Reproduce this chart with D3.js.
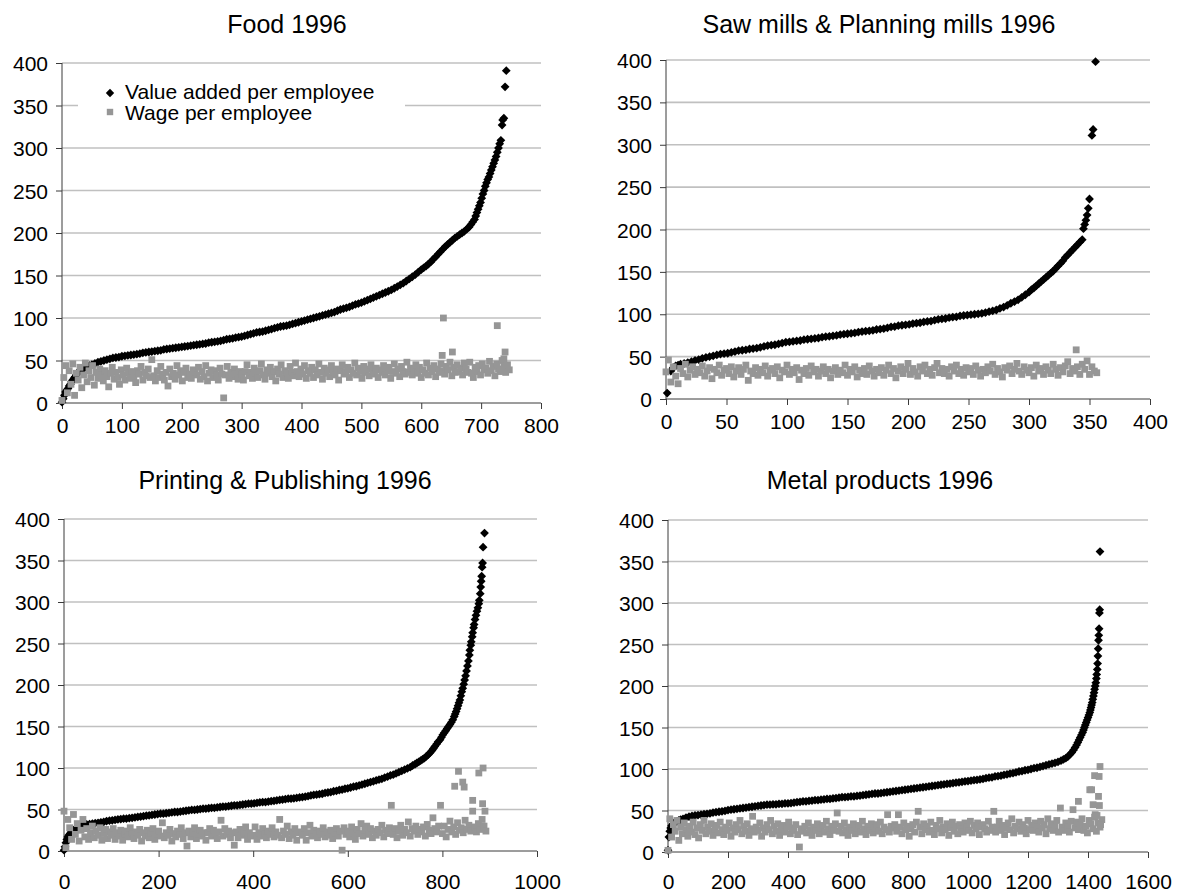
<!DOCTYPE html>
<html>
<head>
<meta charset="utf-8">
<script src="https://cdn.jsdelivr.net/npm/d3@7"></script>
<style>
  body { margin: 0; background: #fff; }
  svg text { font-family: "Liberation Sans", Arial, Helvetica, sans-serif; fill: #000; }
</style>
</head>
<body>
<svg id="chart" width="1181" height="894"></svg>
<script>
// ---- Value added per employee: [firm rank, value] ----
const foodValueAdded = [[0,1],[2,5],[4,9],[6,13],[8,15],[10,17],[12,20],[14,22],[16,25],[18,27],[20,29],[22,31],[24,33],[26,35],[28,37],[30,38],[33,39],[36,40.5],[40,42],[43,43],[46,44],[50,45],[55,46.5],[60,48],[65,49],[70,50],[75,51],[80,52],[85,53],[90,53.5],[95,54],[100,55],[105,55.5],[110,56],[115,56.5],[120,57],[125,57.5],[130,58],[135,59],[140,59.5],[145,60],[150,60.5],[155,61],[160,61.5],[165,62],[170,63],[175,63.5],[180,64],[185,64.5],[190,65],[195,65.5],[200,66],[205,66.5],[210,67],[215,67.5],[220,68],[225,68.5],[230,69],[235,69.5],[240,70],[245,71],[250,71.5],[255,72],[260,72.5],[265,73],[270,74],[275,75],[280,75.5],[285,76],[290,77],[295,77.5],[300,78],[305,79],[310,80],[315,81],[320,82],[325,83],[330,83.5],[335,84],[340,85],[345,86],[350,87],[355,88],[360,89],[365,90],[370,90.5],[375,91],[380,92],[385,93],[390,94],[395,95],[400,96],[405,97],[410,98],[415,99],[420,100],[425,101],[430,102],[435,103],[440,104],[445,105],[450,106],[455,107],[460,108.5],[465,110],[470,111],[475,112],[480,113],[485,114.5],[490,116],[495,117],[500,118],[505,119.5],[510,121],[515,122.5],[520,124],[525,125.5],[530,127],[535,128.5],[540,130],[545,131.5],[550,133],[555,135],[560,137],[565,139],[570,141],[575,143.5],[580,146],[585,148.5],[590,151],[595,154],[600,157],[604,159],[608,161],[612,163.5],[616,166],[620,169],[624,172],[628,175],[632,178],[636,181],[640,184],[644,186.5],[648,189],[652,191.5],[656,194],[660,196],[664,198],[668,200],[672,202],[676,204.5],[680,207],[683,210],[686,213],[689,216],[691,220],[693,224],[695,228],[697,232],[699,236],[701,241],[703,246],[705,250],[707,255],[709,259],[711,263],[713,266],[715,270],[717,274],[719,278],[721,282],[723,286],[725,290],[727,295],[729,300],[731,305],[733,309],[735,327],[736,333],[738,335],[740,372],[742,391]];

const sawValueAdded = [[1,7],[4,33],[6,37],[8,39],[10,40],[12,41],[15,42],[18,43],[21,44],[24,45.5],[27,46.5],[30,48],[33,49],[36,50],[39,51],[42,52],[45,53],[48,53.5],[51,54],[54,55],[57,56],[60,57],[63,57.5],[66,58],[69,59],[72,59.5],[75,60],[78,61],[81,62],[84,63],[87,63.5],[90,64],[93,65],[96,66],[99,67],[102,67.5],[105,68],[108,68.5],[111,69],[114,70],[117,70.5],[120,71],[123,71.5],[126,72],[129,73],[132,73.5],[135,74],[138,74.5],[141,75],[144,76],[147,76.5],[150,77],[153,77.5],[156,78],[159,79],[162,79.5],[165,80],[168,80.5],[171,81],[174,82],[177,82.5],[180,83],[183,84],[186,85],[189,85.5],[192,86.5],[195,87],[198,87.5],[201,88],[204,89],[207,89.5],[210,90],[213,91],[216,91.5],[219,92],[222,93],[225,94],[228,94.5],[231,95],[234,96],[237,96.5],[240,97],[243,98],[246,98.5],[249,99],[252,99.5],[255,100],[258,100.5],[261,101],[264,102],[267,103],[270,104],[273,105],[276,107],[279,108.5],[282,110.5],[285,113],[288,115],[291,117],[294,120],[297,123],[300,126],[302,129],[304,131],[306,133.5],[308,136],[310,138.5],[312,141],[314,143.5],[316,146],[318,148.5],[320,151],[322,154],[324,157],[326,160],[328,163],[330,167],[332,170],[334,173],[336,176],[338,179],[340,182],[342,185],[344,188],[345,201],[346,206],[347,211],[348,217],[349,225],[350,236],[352,311],[353,318],[355,398]];

const printValueAdded = [[0,1],[2,5],[4,10],[6,14],[8,17],[10,19],[13,21],[16,23.5],[20,25],[24,26.5],[28,28],[32,29],[36,30.5],[42,31],[48,32],[54,32.5],[60,33],[66,33.5],[72,34],[78,34.5],[84,35],[90,36],[96,36.5],[102,37],[108,37.5],[114,38],[120,38.5],[126,39],[132,39],[138,39.5],[144,40],[150,40.5],[156,41],[162,41.5],[168,42],[174,42.5],[180,43],[186,43.5],[192,44],[198,44.5],[204,45],[210,45],[216,45.5],[222,46],[228,46.5],[234,47],[240,47],[246,47.5],[252,48],[258,48.5],[264,49],[270,49.5],[276,49.5],[282,50],[288,50.5],[294,51],[300,51],[306,51.5],[312,52],[318,52],[324,52.5],[330,53],[336,53.5],[342,53.5],[348,54],[354,54.5],[360,55],[366,55],[372,55.5],[378,56],[384,56.5],[390,57],[396,57],[402,57.5],[408,58],[414,58.5],[420,59],[426,59],[432,59.5],[438,60],[444,60.5],[450,61],[456,61.5],[462,62],[468,62.5],[474,63],[480,63],[486,63.5],[492,64],[498,64.5],[504,65],[510,65.5],[516,66],[522,67],[528,67.5],[534,68],[540,68.5],[546,69],[552,70],[558,70.5],[564,71],[570,72],[576,72.5],[582,73.5],[588,74],[594,75],[600,75.5],[606,76.5],[612,77.5],[618,78],[624,79],[630,80],[636,81],[642,82],[648,83],[654,84],[660,85],[666,86],[672,87],[678,88.5],[684,89.5],[690,91],[696,92],[702,93.5],[708,95],[714,96.5],[720,98],[726,99.5],[732,101],[737,103],[742,104.5],[746,106],[750,107.5],[754,109],[758,110.5],[762,112],[766,114],[770,116],[774,118.5],[778,121],[781,123.5],[784,126],[788,129],[791,131.5],[795,134],[798,137],[801,140],[804,142.5],[807,145],[810,147.5],[813,150],[816,152.5],[819,155],[822,158],[825,162],[827,165],[829,168],[831,171.5],[833,175],[835,178.5],[837,182],[839,187],[841,192],[843,196],[845,201],[847,206],[849,211],[851,217],[853,223],[855,229],[857,236],[858,242],[860,248],[861,252],[863,258],[864,263],[866,269],[867,273],[869,279],[871,284],[873,289],[875,293],[877,298],[878,302],[880,310],[881,318],[882,325],[883,331],[884,342],[885,347],[886,366],[889,383]];

const metalValueAdded = [[0,2],[3,18],[6,25],[9,29],[12,31.5],[16,33.5],[20,35],[25,36],[30,37],[36,38],[42,39],[50,40],[60,41.5],[70,42.5],[80,43.5],[90,44],[100,44.5],[110,45],[120,45.5],[130,46],[140,46.5],[150,47.5],[160,48],[170,48.5],[180,49],[190,49.5],[200,50.5],[210,51],[220,51.5],[230,52],[240,52.5],[250,53],[260,53.5],[270,54],[280,54.5],[290,55],[300,55.5],[310,56],[320,56.5],[330,57],[340,57],[350,57.5],[360,57.5],[370,58],[380,58],[390,58.5],[400,58.5],[410,59],[420,59.5],[430,60],[440,60.5],[450,61],[460,61],[470,61.5],[480,62],[490,62.5],[500,62.5],[510,63],[520,63.5],[530,64],[540,64],[550,64.5],[560,65],[570,65.5],[580,66],[590,66],[600,66.5],[610,67],[620,67],[630,67.5],[640,68],[650,68.5],[660,69],[670,69.5],[680,70],[690,70.5],[700,70.5],[710,71],[720,71.5],[730,72],[740,72.5],[750,73],[760,73.5],[770,74],[780,74.5],[790,75],[800,75.5],[810,76],[820,76.5],[830,77],[840,77.5],[850,78],[860,78.5],[870,79],[880,79.5],[890,80],[900,80.5],[910,81],[920,81.5],[930,82],[940,82.5],[950,83],[960,83.5],[970,84],[980,84.5],[990,85],[1000,85.5],[1010,86],[1020,86.5],[1030,87],[1040,87.5],[1050,88],[1060,89],[1070,89.5],[1080,90],[1090,91],[1100,91.5],[1110,92],[1120,93],[1130,93.5],[1140,94.5],[1150,95],[1160,96],[1170,97],[1180,97.5],[1190,98.5],[1200,99],[1210,100],[1220,101],[1230,101.5],[1240,102.5],[1250,103.5],[1260,104.5],[1270,105.5],[1280,106.5],[1290,107.5],[1300,108.5],[1310,110],[1318,111.5],[1326,113],[1333,115],[1340,117.5],[1346,120],[1352,123],[1357,126],[1362,129],[1366,132],[1370,135],[1374,138],[1378,141],[1382,144],[1385,147],[1388,150],[1391,153],[1394,156],[1397,159],[1400,162],[1403,165],[1406,168],[1408,171],[1410,174],[1412,177],[1414,180],[1416,184],[1418,188],[1420,192],[1422,196],[1424,200],[1426,204],[1428,209],[1429,214],[1431,220],[1432,227],[1433,236],[1434,245],[1435,255],[1436,261],[1437,269],[1438,288],[1439,292],[1440,362]];

// ---- Wage per employee: values for every n-th firm (rank = index * step), plus stray firms ----
const foodWageStep = 3;
const foodWage = [3,30,44,12,38,22,46,9,35,27,42,18,33,47,25,38,30,44,21,36,29,40,33,26,38,
  31,19,35,42,28,36,30,22,39,33,27,41,35,29,37,31,24,38,34,43,27,36,32,40,30,
  51,32,26,38,30,43,34,27,36,20,40,31,35,28,44,33,38,26,36,41,30,34,29,39,36,
  33,42,28,37,31,44,26,35,39,30,38,33,27,41,34,6,33,43,29,36,31,40,34,28,37,
  34,27,37,45,32,36,29,41,35,30,38,46,33,28,39,35,42,31,37,26,40,34,45,30,38,
  35,29,43,36,32,47,37,31,40,34,44,29,38,35,42,30,39,33,46,36,28,41,35,39,31,
  44,36,33,40,27,38,45,34,37,42,30,39,35,47,33,41,37,29,43,36,40,32,45,38,34,
  41,30,39,36,44,33,38,42,29,37,46,35,40,31,43,37,34,48,36,41,33,39,45,35,42,
  30,39,35,47,33,41,37,44,31,40,36,46,38,34,43,39,48,32,42,36,45,37,41,33,47,
  40,36,48,35,30,42,37,44,33,46,39,41,35,49,38,43,32,46,40,37,50,44,36,45,39];
const foodWageStray = [[637,100],[652,60],[727,91],[740,60],[635,56],[738,52]];

const sawWageStep = 2;
const sawWage = [32,46,20,38,27,18,36,30,41,26,34,38,29,35,31,39,27,33,37,24,35,31,40,28,34,
  36,30,38,26,33,37,29,35,40,22,33,30,37,28,35,31,39,27,34,36,30,38,25,34,32,
  40,29,35,31,37,23,34,30,36,28,39,32,35,27,33,38,30,35,25,33,37,29,34,31,40,
  28,35,32,38,26,34,30,36,29,39,33,27,35,31,37,28,34,40,30,36,25,33,38,30,35,
  42,29,36,32,27,38,33,40,30,35,28,37,42,31,36,30,35,27,38,33,40,30,35,28,37,
  32,36,29,39,34,27,35,31,38,33,41,29,36,32,26,37,34,39,30,35,42,33,29,38,34,
  31,37,27,40,33,36,29,38,34,30,41,35,28,37,32,39,44,30,36,33,38,29,41,35,45,
  29,38,33,31];
const sawWageStray = [[339,58]];

const printWageStep = 4;
const printWage = [48,4,38,28,14,44,20,33,12,25,38,17,27,14,22,30,16,24,19,28,13,21,26,15,23,
  19,27,14,22,18,25,13,20,24,17,28,21,15,23,19,26,12,22,18,25,16,21,27,14,20,
  24,18,34,16,22,19,26,12,21,17,24,20,28,15,22,6,24,17,22,28,15,20,25,18,22,
  13,22,27,18,25,20,15,23,37,18,27,20,24,16,22,7,23,16,26,19,22,29,14,22,18,
  19,29,14,22,18,27,21,16,24,20,28,17,23,19,38,16,24,20,30,15,23,19,27,13,22,
  23,19,27,13,22,31,18,25,21,16,24,20,28,17,23,19,25,15,22,27,18,24,1,28,20,
  24,17,29,22,14,26,21,33,18,25,30,20,27,16,24,19,26,22,31,17,25,21,28,55,20,
  27,16,24,31,19,26,22,35,18,27,24,30,20,26,23,29,18,32,25,21,40,27,23,30,55,
  21,30,17,26,36,23,29,20,34,25,28,22,37,26,31,24,48,29,23,33,26,38,30,24];
const printWageStray = [[826,78],[834,96],[843,83],[846,77],[864,61],[877,94],[886,100],[885,57],[890,48]];

const metalWageStep = 6;
const metalWage = [2,40,18,33,25,38,14,30,22,35,27,19,31,24,36,21,29,17,33,26,38,22,30,25,34,
  20,28,32,23,36,27,21,30,26,35,19,29,24,33,27,38,22,31,25,34,20,28,43,24,30,
  26,35,19,29,24,33,27,38,22,31,25,34,20,28,32,24,30,36,22,29,26,33,21,6,28,
  25,31,23,35,27,20,30,26,34,22,29,32,24,37,28,21,31,26,34,47,25,31,23,35,27,
  20,30,26,34,22,29,32,24,37,28,21,31,26,34,23,29,33,25,36,22,30,27,45,24,31,
  29,33,25,45,30,22,35,27,31,19,28,33,24,36,49,30,22,34,27,31,24,36,26,21,32,
  28,38,23,30,27,34,20,29,36,25,31,22,33,28,24,35,30,26,37,23,32,28,35,21,30,
  33,28,24,37,26,30,49,24,30,37,26,32,21,29,35,27,40,23,31,28,36,25,33,29,22,
  38,27,32,26,35,30,24,37,29,33,22,40,28,34,26,31,38,24,53,30,26,35,30,24,37,
  51,29,36,27,33,40,26,31,23,38,34,28,42,25,35,30,39];
const metalWageStray = [[1368,61],[1406,75],[1412,75],[1417,57],[1422,92],[1424,45],[1435,67],[1437,91],[1438,56],[1440,103],[1430,44],[1442,33]];

// ---- Axis ticks and labels ----
const yTicks = [0, 50, 100, 150, 200, 250, 300, 350, 400];
const foodXTicks = [0, 100, 200, 300, 400, 500, 600, 700, 800];
const sawXTicks = [0, 50, 100, 150, 200, 250, 300, 350, 400];
const printXTicks = [0, 200, 400, 600, 800, 1000];
const metalXTicks = [0, 200, 400, 600, 800, 1000, 1200, 1400, 1600];

const seriesNames = ["Value added per employee", "Wage per employee"];
const panelTitles = ["Food 1996", "Saw mills & Planning mills 1996", "Printing & Publishing 1996", "Metal products 1996"];

const withRanks = (values, step, stray) => values.map((v, i) => [i * step, v]).concat(stray);

// ---- Layout ----
const panels = [
  { title: panelTitles[0], va: foodValueAdded, wage: withRanks(foodWage, foodWageStep, foodWageStray),
    xTicks: foodXTicks, box: { l: 62, r: 541, t: 63, b: 403 }, titleX: 287, titleY: 33, labelY: 433, legend: true },
  { title: panelTitles[1], va: sawValueAdded, wage: withRanks(sawWage, sawWageStep, sawWageStray),
    xTicks: sawXTicks, box: { l: 666, r: 1150, t: 60, b: 399 }, titleX: 879, titleY: 33, labelY: 429 },
  { title: panelTitles[2], va: printValueAdded, wage: withRanks(printWage, printWageStep, printWageStray),
    xTicks: printXTicks, box: { l: 64, r: 537, t: 519, b: 851 }, titleX: 285, titleY: 489, labelY: 889 },
  { title: panelTitles[3], va: metalValueAdded, wage: withRanks(metalWage, metalWageStep, metalWageStray),
    xTicks: metalXTicks, box: { l: 668, r: 1148, t: 520, b: 852 }, titleX: 880, titleY: 489, labelY: 889 }
];

const svg = d3.select("#chart");
const GRID = "#c0c0c0", AXIS = "#3a3a3a", GRAY = "#969696";
const diamondPath = r => `M0,${-r}L${r},0L0,${r}L${-r},0Z`;

panels.forEach(p => {
  const g = svg.append("g");
  const xDom = [p.xTicks[0], p.xTicks[p.xTicks.length - 1]];
  const x = d3.scaleLinear().domain(xDom).range([p.box.l, p.box.r]);
  const y = d3.scaleLinear().domain([0, 400]).range([p.box.b, p.box.t]);

  // horizontal gridlines
  g.selectAll("line.grid").data(yTicks.filter(t => t > 0)).join("line")
    .attr("class", "grid")
    .attr("x1", p.box.l).attr("x2", p.box.r)
    .attr("y1", d => y(d)).attr("y2", d => y(d))
    .attr("stroke", GRID).attr("stroke-width", 1.6);

  // y axis
  const yAxis = d3.axisLeft(y).tickValues(yTicks).tickSize(6).tickPadding(8).tickFormat(d3.format("d"));
  const ya = g.append("g").attr("transform", `translate(${p.box.l},0)`).call(yAxis);
  ya.select(".domain").attr("stroke", AXIS).attr("d", `M0,${p.box.t}V${p.box.b}`);
  ya.selectAll(".tick line").attr("stroke", AXIS);
  ya.selectAll(".tick text").attr("font-size", 21).attr("dy", "0.36em")
    .attr("font-family", "Liberation Sans, Arial, sans-serif").attr("fill", "#000");

  // x axis
  const xAxis = d3.axisBottom(x).tickValues(p.xTicks).tickSize(6).tickFormat(d3.format("d"));
  const xa = g.append("g").attr("transform", `translate(0,${p.box.b})`).call(xAxis);
  xa.select(".domain").attr("stroke", AXIS).attr("d", `M${p.box.l},0H${p.box.r}`);
  xa.selectAll(".tick line").attr("stroke", AXIS);
  xa.selectAll(".tick text").attr("font-size", 21).attr("dy", null)
    .attr("y", p.labelY - p.box.b)
    .attr("font-family", "Liberation Sans, Arial, sans-serif").attr("fill", "#000");

  // title
  g.append("text").attr("x", p.titleX).attr("y", p.titleY)
    .attr("text-anchor", "middle").attr("font-size", 25).text(p.title);

  // legend (white panel over the gridline)
  if (p.legend) {
    const lg = g.append("g");
    lg.append("rect").attr("x", 78).attr("y", 78).attr("width", 327).attr("height", 48).attr("fill", "#fff");
    lg.append("path").attr("d", diamondPath(4.2)).attr("transform", "translate(110,93)").attr("fill", "#000");
    lg.append("rect").attr("x", 106.8).attr("y", 108.8).attr("width", 6.4).attr("height", 6.4).attr("fill", GRAY);
    lg.append("text").attr("x", 125).attr("y", 99).attr("font-size", 21).text(seriesNames[0]);
    lg.append("text").attr("x", 125).attr("y", 120).attr("font-size", 21).text(seriesNames[1]);
  }

  // value added: black diamonds
  g.append("g").selectAll("path").data(p.va).join("path")
    .attr("d", diamondPath(4.4))
    .attr("transform", d => `translate(${x(d[0])},${y(d[1])})`)
    .attr("fill", "#000");

  // wage: gray squares drawn on top
  const s = 6.8;
  g.append("g").selectAll("rect").data(p.wage).join("rect")
    .attr("x", d => x(d[0]) - s / 2).attr("y", d => y(d[1]) - s / 2)
    .attr("width", s).attr("height", s)
    .attr("fill", GRAY);
});
</script>
</body>
</html>
